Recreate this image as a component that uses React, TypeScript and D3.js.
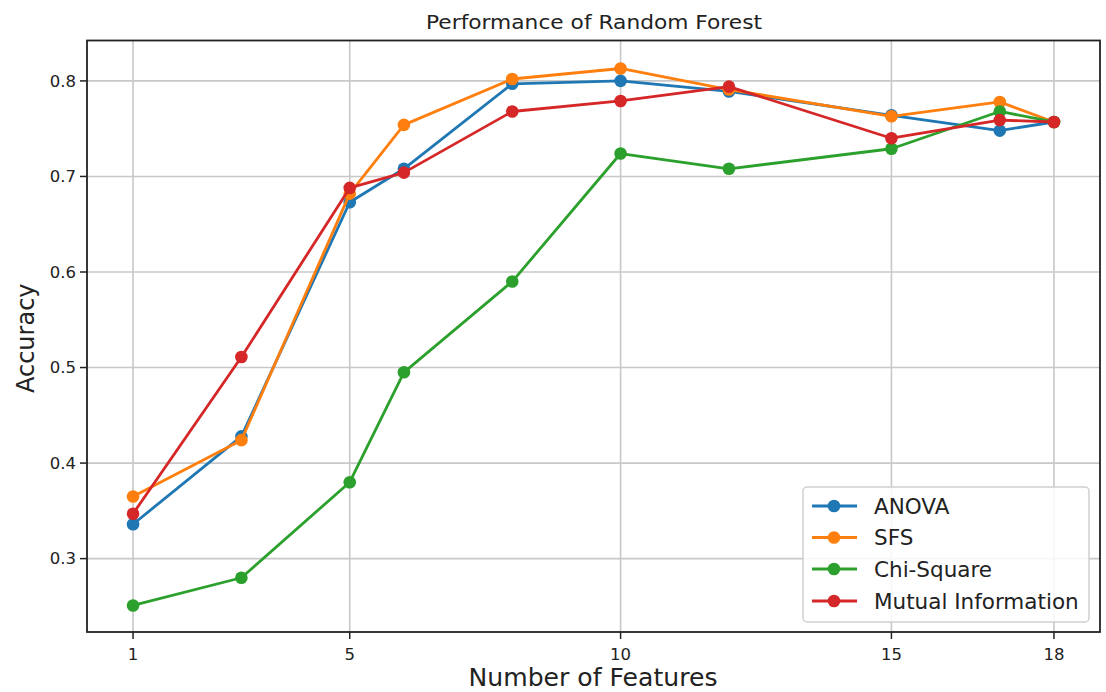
import React from "react";
import * as d3 from "d3";

const features = [1, 3, 5, 6, 8, 10, 12, 15, 17, 18];
const anova = [0.336, 0.428, 0.673, 0.708, 0.797, 0.8, 0.789, 0.764, 0.748, 0.757];
const sfs = [0.365, 0.424, 0.682, 0.754, 0.802, 0.813, 0.791, 0.763, 0.778, 0.757];
const chiSquare = [0.251, 0.28, 0.38, 0.495, 0.59, 0.724, 0.708, 0.729, 0.768, 0.757];
const mutualInfo = [0.347, 0.511, 0.688, 0.704, 0.768, 0.779, 0.794, 0.74, 0.759, 0.757];

const seriesNames = ["ANOVA", "SFS", "Chi-Square", "Mutual Information"];
const seriesColors = ["#1f77b4", "#ff7f0e", "#2ca02c", "#d62728"];
const xTicks = [1, 5, 10, 15, 18];
const yTicks = [0.3, 0.4, 0.5, 0.6, 0.7, 0.8];

const W = 1106;
const H = 692;
const left = 87;
const right = 1100;
const top = 40.5;
const bottom = 632;
const FONT = "DejaVu Sans, sans-serif";

export default function App() {
  const all = [anova, sfs, chiSquare, mutualInfo];
  const x = d3.scaleLinear().domain([0.15, 18.85]).range([left, right]);
  const y = d3.scaleLinear().domain([0.2232, 0.8423]).range([bottom, top]);
  const line = d3
    .line<number>()
    .x((_, i) => x(features[i]))
    .y((d) => y(d));

  const legX = 803;
  const legY = 487;
  const legW = 286;
  const legH = 135;
  const rowY = [506, 537.5, 569, 601];

  return (
    <svg width={W} height={H} style={{ position: "absolute", left: 0, top: 0, background: "#fff" }}>
      <rect x={0} y={0} width={W} height={H} fill="#fff" />
      {xTicks.map((t) => (
        <line key={"gx" + t} x1={x(t)} x2={x(t)} y1={top} y2={bottom} stroke="#c8c8c8" strokeWidth={1.6} />
      ))}
      {yTicks.map((t) => (
        <line key={"gy" + t} x1={left} x2={right} y1={y(t)} y2={y(t)} stroke="#c8c8c8" strokeWidth={1.6} />
      ))}
      {all.map((s, k) => (
        <g key={"s" + k}>
          <path d={line(s) || ""} fill="none" stroke={seriesColors[k]} strokeWidth={2.8} strokeLinejoin="round" />
          {s.map((v, i) => (
            <circle key={i} cx={x(features[i])} cy={y(v)} r={6.3} fill={seriesColors[k]} />
          ))}
        </g>
      ))}
      <rect x={left} y={top} width={right - left} height={bottom - top} fill="none" stroke="#222" strokeWidth={1.8} />
      {xTicks.map((t) => (
        <g key={"xt" + t}>
          <line x1={x(t)} x2={x(t)} y1={bottom} y2={bottom + 7} stroke="#222" strokeWidth={1.5} />
          <text x={x(t)} y={660} textAnchor="middle" fontFamily={FONT} fontSize={16.5} fill="#222">
            {t}
          </text>
        </g>
      ))}
      {yTicks.map((t) => (
        <g key={"yt" + t}>
          <line x1={left - 7} x2={left} y1={y(t)} y2={y(t)} stroke="#222" strokeWidth={1.5} />
          <text x={76} y={y(t)} dy="0.35em" textAnchor="end" fontFamily={FONT} fontSize={16.5} fill="#222">
            {t.toFixed(1)}
          </text>
        </g>
      ))}
      <text x={594} y={29} textAnchor="middle" fontFamily={FONT} fontSize={19} fill="#222" textLength={336} lengthAdjust="spacingAndGlyphs">
        Performance of Random Forest
      </text>
      <text x={593} y={686} textAnchor="middle" fontFamily={FONT} fontSize={25} fill="#222" textLength={249} lengthAdjust="spacingAndGlyphs">
        Number of Features
      </text>
      <text
        transform={`translate(34, ${(top + bottom) / 2 + 2}) rotate(-90)`}
        textAnchor="middle"
        fontFamily={FONT}
        fontSize={24}
        fill="#222"
      >
        Accuracy
      </text>
      <rect x={legX} y={legY} width={legW} height={legH} rx={4} fill="#fff" fillOpacity={0.85} stroke="#d0d0d0" strokeWidth={1.5} />
      {seriesNames.map((n, k) => (
        <g key={"lg" + k}>
          <line x1={812} x2={857} y1={rowY[k]} y2={rowY[k]} stroke={seriesColors[k]} strokeWidth={2.8} />
          <circle cx={834} cy={rowY[k]} r={6.3} fill={seriesColors[k]} />
          <text x={874} y={rowY[k]} dy="0.36em" fontFamily={FONT} fontSize={21.5} fill="#222">
            {n}
          </text>
        </g>
      ))}
    </svg>
  );
}
